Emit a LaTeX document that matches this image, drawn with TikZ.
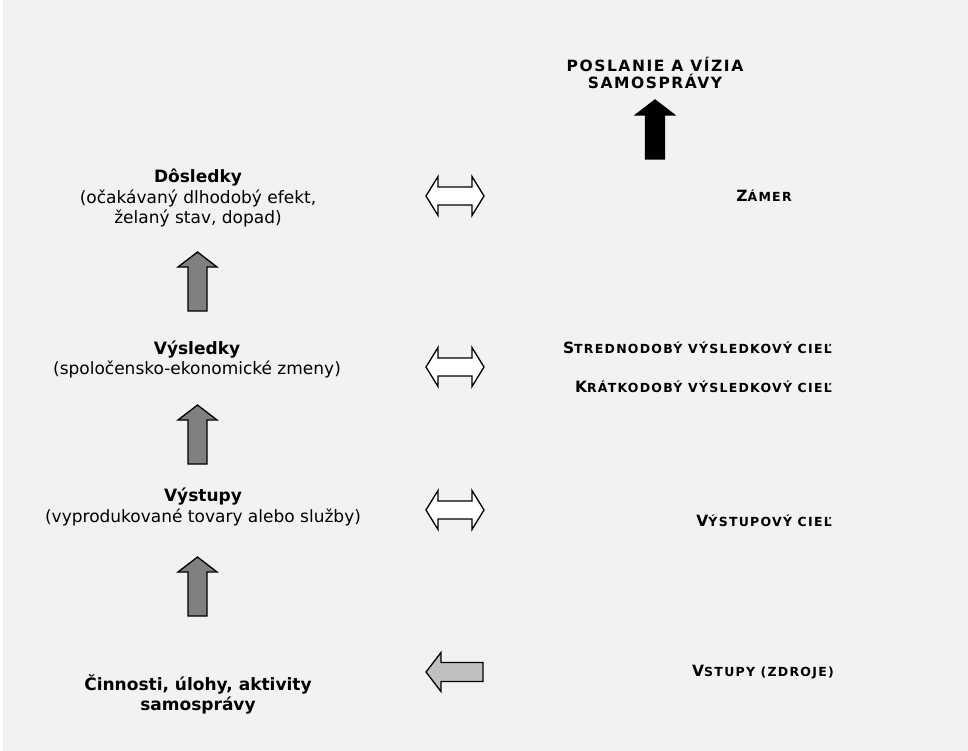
\documentclass[tikz,border=0pt]{standalone}
\usepackage{fontspec}
\setmainfont{DejaVu Sans}
\newfontfamily\siroke[LetterSpace=10]{DejaVu Sans}
\usepackage{tikz}
\usetikzlibrary{positioning}
\definecolor{pozadie}{HTML}{F2F2F2}
\definecolor{sivaA}{HTML}{808080}
\definecolor{sivaB}{HTML}{C0C0C0}
\newcommand{\velke}{\siroke\fontsize{15.5}{17}\selectfont\bfseries}
\newcommand{\male}{\fontsize{12.5}{14}\selectfont}
\newcommand{\kap}[2]{#1{\male #2}}
\newcommand{\hore}[3]{\filldraw[blok, fill=#3] (#1,#2) -- ++(19.5,15) -- ++(-10,0) -- ++(0,44) -- ++(-19,0) -- ++(0,-44) -- ++(-10,0) -- cycle;}
\newcommand{\obojsmer}[2]{\filldraw[blok, fill=white] (#1-29,#2) -- (#1-17,#2-19.5) -- (#1-17,#2-9) -- (#1+17,#2-9) -- (#1+17,#2-19.5) -- (#1+29,#2) -- (#1+17,#2+19.5) -- (#1+17,#2+9) -- (#1-17,#2+9) -- (#1-17,#2+19.5) -- cycle;}
\tikzset{
  blok/.style={draw=black, line width=1.3pt, line join=miter},
  uroven/.style={align=center, font=\fontsize{17}{20.5}\selectfont},
  ciel/.style={font=\velke, inner sep=0pt}
}
\begin{document}
\begin{tikzpicture}[x=1pt, y=-1pt]
  \useasboundingbox (0,0) rectangle (968,751);
  \fill[white] (0,0) rectangle (968,751);
  \fill[pozadie] (3,0) rectangle (968,751);
  % lava strana
  \node[uroven] (dosledky) at (198,198) {\textbf{Dôsledky}\\(očakávaný dlhodobý efekt,\\želaný stav, dopad)};
  \node[uroven] (vysledky) at (197,359.5) {\textbf{Výsledky}\\(spoločensko-ekonomické zmeny)};
  \node[uroven] (vystupy) at (203,507) {\textbf{Výstupy}\\(vyprodukované tovary alebo služby)};
  \node[uroven, font=\fontsize{17}{20.5}\selectfont\bfseries] (cinnosti) at (198,694.5) {Činnosti, úlohy, aktivity\\samosprávy};
  % prava strana
  \node[ciel, align=center] (poslanie) at (655,73) {POSLANIE A VÍZIA\\SAMOSPRÁVY};
  \node[ciel] (zamer) at (764,196) {\kap{Z}{ÁMER}};
  \node[ciel, anchor=east] (strednodoby) at (832,348) {\kap{S}{TREDNODOBÝ VÝSLEDKOVÝ CIEĽ}};
  \node[ciel, anchor=east] (kratkodoby) at (832,387) {\kap{K}{RÁTKODOBÝ VÝSLEDKOVÝ CIEĽ}};
  \node[ciel, anchor=east] (vystupovy) at (832,521) {\kap{V}{ÝSTUPOVÝ CIEĽ}};
  \node[ciel] (vstupy) at (763,672) {\kap{V}{STUPY (ZDROJE)}};
  % sipky
  \hore{655}{100}{black}
  \hore{197.5}{252}{sivaA}
  \hore{197.5}{405}{sivaA}
  \hore{197.5}{557}{sivaA}
  \obojsmer{455}{196}
  \obojsmer{455}{367}
  \obojsmer{455}{510}
  \filldraw[blok, fill=sivaB] (426,672) -- (441,652.5) -- (441,662.5) -- (483,662.5) -- (483,681.5) -- (441,681.5) -- (441,691.5) -- cycle;
\end{tikzpicture}
\end{document}
